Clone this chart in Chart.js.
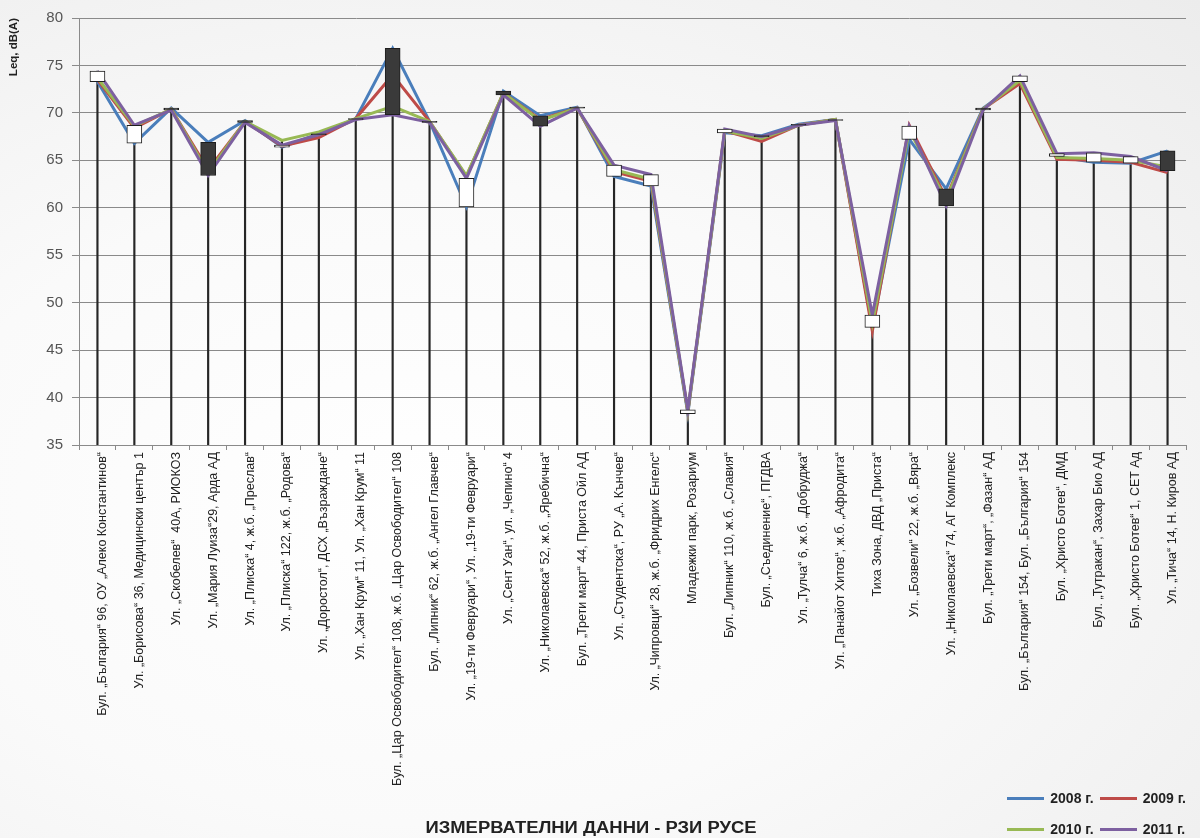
<!DOCTYPE html>
<html>
<head>
<meta charset="utf-8">
<script src="https://cdn.jsdelivr.net/npm/chart.js@4.4.0/dist/chart.umd.min.js"></script>
<style>
  body { margin: 0; }
  #wrap {
    position: relative;
    width: 1200px;
    height: 838px;
    background: radial-gradient(ellipse at 35% 60%, #ffffff 0%, #fafafa 45%, #ececec 100%);
    font-family: "Liberation Sans", Arial, sans-serif;
  }
  #xtitle {
    position: absolute;
    left: 0;
    width: 1182px;
    top: 819px;
    text-align: center;
    font-weight: bold;
    font-size: 16px;
    color: #222;
    transform: scaleX(1.15);
    transform-origin: 591px 0;
  }
  #legend {
    position: absolute;
    right: 14px;
    top: 790px;
    display: grid;
    grid-template-columns: auto auto;
    row-gap: 15px;
    column-gap: 6px;
  }
  .item { display: flex; align-items: center; font-weight: bold; font-size: 14px; color: #222; }
  .swatch { width: 37px; height: 3px; margin-right: 6px; }
</style>
</head>
<body>
<div id="wrap">
  <canvas id="chart" width="1200" height="838"></canvas>
  <div id="xtitle">ИЗМЕРВАТЕЛНИ ДАННИ - РЗИ РУСЕ</div>
  <div id="legend"></div>
</div>
<script>
const categories = [
  'Бул. „България“ 96, ОУ „Алеко Константинов“',
  'Ул. „Борисова“ 36, Медицински център 1',
  'Ул. „Скобелев“  40А, РИОКОЗ',
  'Ул. „Мария Луиза“29, Арда АД',
  'Ул. „Плиска“ 4, ж.б. „Преслав“',
  'Ул. „Плиска“ 122, ж.б. „Родова“',
  'Ул. „Доростол“, ДСХ „Възраждане“',
  'Ул. „Хан Крум“ 11, Ул. „Хан Крум“ 11',
  'Бул. „Цар Освободител“ 108, ж.б. „Цар Освободител“ 108',
  'Бул. „Липник“ 62, ж.б. „Ангел Главчев“',
  'Ул. „19-ти Февруари“, Ул. „19-ти Февруари“',
  'Ул. „Сент Уан“, ул. „Чепино“ 4',
  'Ул. „Николаевска“ 52, ж.б. „Яребична“',
  'Бул. „Трети март“ 44, Приста Ойл АД',
  'Ул. „Студентска“, РУ „А. Кънчев“',
  'Ул. „Чипровци“ 28, ж.б. „Фридрих Енгелс“',
  'Младежки парк, Розариум',
  'Бул. „Липник“ 110, ж.б. „Славия“',
  'Бул. „Съединение“, ПГДВА',
  'Ул. „Тулча“ 6, ж.б. „Добруджа“',
  'Ул. „Панайот Хитов“, ж.б. „Афродита“',
  'Тиха Зона, ДВД „Приста“',
  'Ул. „Бозвели“ 22, ж.б. „Вяра“',
  'Ул. „Николаевска“ 74, АГ Комплекс',
  'Бул. „Трети март“, „Фазан“ АД',
  'Бул. „България“ 154, Бул. „България“ 154',
  'Бул. „Христо Ботев“, ДМД',
  'Бул. „Тутракан“, Захар Био АД',
  'Бул. „Христо Ботев“ 1, СЕТ Ад',
  'Ул. „Тича“ 14, Н. Киров АД'
];

const values2008 = [73.3, 66.8, 70.5, 66.9, 69.2, 66.4, 67.8, 69.4, 76.8, 69.1, 60.1, 72.3, 69.7, 70.6, 63.3,
  62.3, 38.3, 67.9, 67.6, 68.8, 69.3, 47.4, 67.2, 62.0, 70.5, 73.3, 65.4, 64.8, 64.7, 66.0];
const values2009 = [73.5, 68.4, 70.4, 64.0, 69.1, 66.5, 67.4, 69.4, 74.0, 69.1, 63.3, 72.1, 69.3, 70.5, 63.8,
  62.8, 38.5, 68.1, 67.0, 68.7, 69.3, 47.0, 68.7, 61.0, 70.4, 73.1, 65.1, 65.0, 64.8, 63.7];
const values2010 = [73.7, 68.6, 70.4, 63.7, 69.1, 67.1, 68.0, 69.4, 70.7, 69.1, 63.4, 72.1, 69.2, 70.5, 64.0,
  63.0, 38.5, 68.1, 67.3, 68.7, 69.3, 47.8, 68.2, 60.8, 70.4, 73.4, 65.3, 65.2, 65.0, 64.3];
const values2011 = [74.4, 68.7, 70.3, 63.4, 69.0, 66.6, 67.7, 69.3, 69.8, 69.0, 63.1, 71.9, 68.6, 70.5, 64.5,
  63.5, 38.7, 68.3, 67.5, 68.7, 69.2, 48.7, 68.6, 60.2, 70.3, 73.9, 65.7, 65.8, 65.4, 63.9];

const seriesNames = ['2008 г.', '2009 г.', '2010 г.', '2011 г.'];
const seriesColors = ['#4a7ebb', '#be4b48', '#98b954', '#7d60a0'];
const yMin = 35;
const yMax = 80;
const yStep = 5;

const allSeries = [values2008, values2009, values2010, values2011];

// up-down bars between first and last year, drop lines up to the highest value
let upDown = [];
let upDownColors = [];
let dropLines = [];
categories.forEach(function (c, i) {
  upDown.push([values2008[i], values2011[i]]);
  upDownColors.push(values2011[i] >= values2008[i] ? '#ffffff' : '#3a3a3a');
  let top = Math.max(values2008[i], values2009[i], values2010[i], values2011[i]);
  dropLines.push([yMin, top]);
});

let datasets = [{
  type: 'bar',
  label: 'up-down',
  data: upDown,
  backgroundColor: upDownColors,
  borderColor: '#1e1e1e',
  borderWidth: 1,
  borderSkipped: false,
  barThickness: 15,
  grouped: false,
  order: 0
}];
allSeries.forEach(function (values, k) {
  datasets.push({
    type: 'line',
    label: seriesNames[k],
    data: values,
    borderColor: seriesColors[k],
    borderWidth: 3,
    tension: 0,
    pointRadius: 0,
    fill: false,
    order: 4 - k
  });
});
datasets.push({
  type: 'bar',
  label: 'drop',
  data: dropLines,
  backgroundColor: '#262626',
  borderWidth: 0,
  barThickness: 1.5,
  grouped: false,
  order: 10
});

new Chart(document.getElementById('chart'), {
  type: 'line',
  data: {
    labels: categories,
    datasets: datasets
  },
  options: {
    responsive: false,
    animation: false,
    devicePixelRatio: 1,
    layout: {
      padding: { top: 15, right: 14, bottom: 0, left: 0 }
    },
    plugins: {
      legend: { display: false },
      tooltip: { enabled: false }
    },
    scales: {
      x: {
        offset: true,
        afterFit: function (scale) { scale.height = 393; },
        grid: {
          offset: true,
          drawOnChartArea: false,
          drawTicks: true,
          tickLength: 5,
          color: '#8a8a8a'
        },
        border: { color: '#8a8a8a' },
        ticks: {
          autoSkip: false,
          minRotation: 90,
          maxRotation: 90,
          padding: 2,
          labelOffset: 5,
          color: '#222',
          font: { family: '"Liberation Sans", Arial, sans-serif', size: 12.5 }
        }
      },
      y: {
        min: yMin,
        max: yMax,
        afterFit: function (scale) { scale.width = 79; },
        grid: { color: '#8a8a8a', tickLength: 7 },
        border: { color: '#8a8a8a' },
        ticks: {
          stepSize: yStep,
          padding: 9,
          color: '#555',
          font: { family: '"Liberation Sans", Arial, sans-serif', size: 15 }
        },
        title: {
          display: true,
          text: 'Leq, dB(A)',
          align: 'end',
          color: '#222',
          padding: { top: 7, bottom: 0 },
          font: { family: '"Liberation Sans", Arial, sans-serif', size: 11.5, weight: 'bold' }
        }
      }
    }
  }
});

// legend in two rows, like the original
let legend = document.getElementById('legend');
seriesNames.forEach(function (name, k) {
  let item = document.createElement('div');
  item.className = 'item';
  item.innerHTML = '<span class="swatch" style="background:' + seriesColors[k] + '"></span>' + name;
  legend.appendChild(item);
});
</script>
</body>
</html>
